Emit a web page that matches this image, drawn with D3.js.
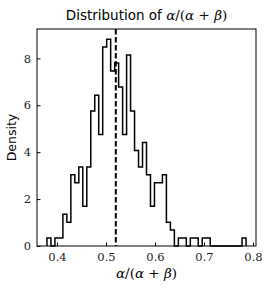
<!DOCTYPE html>
<html><head><meta charset="utf-8">
<script src="https://cdn.jsdelivr.net/npm/d3@7"></script>
<style>
body{margin:0;background:#fff}
</style>
</head><body>
<svg id="c" width="269" height="291"></svg>
<script>
// ---- data ----
const binStart = 0.3795;
const binEnd = 0.7858;
const density = [0.34,0,0.34,0.34,1.35,1.01,3.04,2.70,3.37,1.69,
  3.37,5.76,6.43,4.75,8.48,8.81,7.46,7.80,6.78,4.75,
  8.14,5.76,4.07,3.37,4.41,3.04,1.69,2.70,2.70,3.04,
  1.01,0.68,0,0.34,0.34,0,0.34,0.34,0,0.34,
  0.34,0,0,0,0,0,0,0,0,0.34];
const meanValue = 0.520;
const xTicks = [0.4,0.5,0.6,0.7,0.8];
const yTicks = [0,2,4,6,8];

const SERIF = "'DejaVu Serif', serif";
const MATH = "'DejaVu Serif', serif";
const SANS = "'DejaVu Sans', sans-serif";

const svg = d3.select('#c');
const L=37, R=256, T=29, B=246;
const pad = (binEnd-binStart)*0.05;
const x = d3.scaleLinear().domain([binStart-pad, binEnd+pad]).range([L,R]);
const y = d3.scaleLinear().domain([0, d3.max(density)*1.05]).range([B,T]);
const bw = (binEnd-binStart)/density.length;

// histogram step outline
const pts = [[binStart,0]];
density.forEach((d,i)=>{
  pts.push([binStart+i*bw, d]);
  pts.push([binStart+(i+1)*bw, d]);
});
pts.push([binEnd,0]);
svg.append('path')
  .attr('d', d3.line().x(p=>x(p[0])).y(p=>y(p[1]))(pts))
  .attr('fill','none').attr('stroke','#000').attr('stroke-width',1.5)
  .attr('stroke-linejoin','miter');

// mean line
svg.append('line').attr('x1',x(meanValue)).attr('x2',x(meanValue))
  .attr('y1',T).attr('y2',B)
  .attr('stroke','#000').attr('stroke-width',2).attr('stroke-dasharray','5.5,2.5');

// frame
svg.append('rect').attr('x',L).attr('y',T).attr('width',R-L).attr('height',B-T)
  .attr('fill','none').attr('stroke','#000').attr('stroke-width',1);

// axes
const xa = svg.append('g').attr('transform',`translate(0,${B})`)
  .call(d3.axisBottom(x).tickValues(xTicks).tickFormat(d3.format('.1f')).tickSizeInner(-3.5).tickSizeOuter(0).tickPadding(7));
const ya = svg.append('g').attr('transform',`translate(${L},0)`)
  .call(d3.axisLeft(y).tickValues(yTicks).tickFormat(d3.format('d')).tickSizeInner(-3.5).tickSizeOuter(0).tickPadding(6));
[xa,ya].forEach(g=>{
  g.attr('font-family',SERIF).attr('font-size',11.5);
  g.select('.domain').remove();
  g.selectAll('text').style('font-family',SERIF).style('font-size','11.5px').attr('fill','#222');
  g.selectAll('line').attr('stroke','#000');
});

// title
const t = svg.append('text').attr('x',(L+R)/2).attr('y',20).attr('text-anchor','middle')
  .style('font-size','13.5px').attr('fill','#000');
t.append('tspan').style('font-family',SANS).text('Distribution of ');
t.append('tspan').style('font-family',MATH).style('font-style','italic').text('α');
t.append('tspan').style('font-family',MATH).text('/(');
t.append('tspan').style('font-family',MATH).style('font-style','italic').text('α');
t.append('tspan').style('font-family',MATH).text(' + ');
t.append('tspan').style('font-family',MATH).style('font-style','italic').text('β');
t.append('tspan').style('font-family',MATH).text(')');

// x label
const xl = svg.append('text').style('font-family',MATH).attr('x',(L+R)/2).attr('y',278).attr('text-anchor','middle')
  .style('font-size','13.5px').attr('fill','#000');
xl.append('tspan').style('font-style','italic').text('α');
xl.append('tspan').text('/(');
xl.append('tspan').style('font-style','italic').text('α');
xl.append('tspan').text(' + ');
xl.append('tspan').style('font-style','italic').text('β');
xl.append('tspan').text(')');

// y label
svg.append('text').style('font-family',SANS).attr('transform',`translate(16,${(T+B)/2}) rotate(-90)`)
  .attr('text-anchor','middle').style('font-size','12.5px')
  .attr('fill','#000').text('Density');
</script>
</body></html>
